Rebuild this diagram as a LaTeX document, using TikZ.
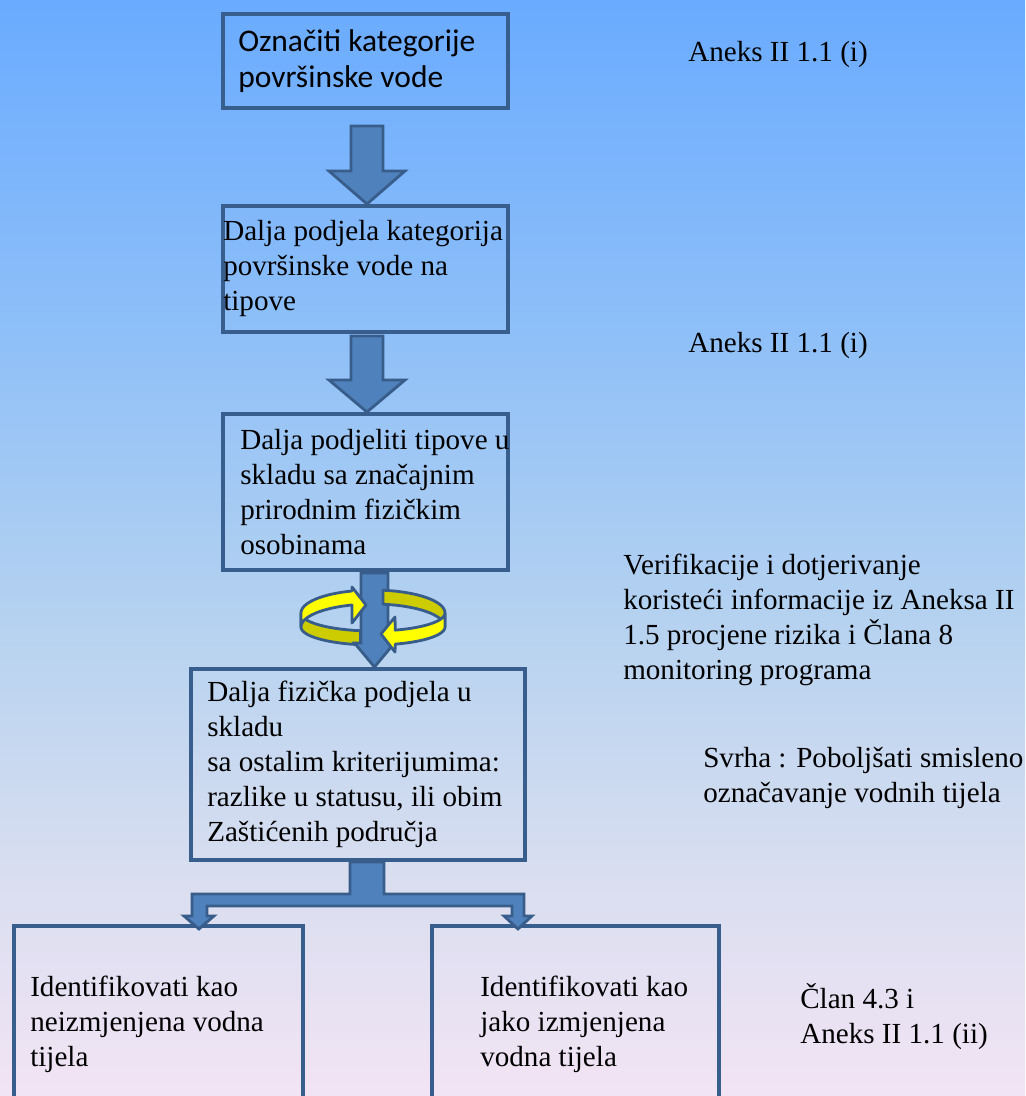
\documentclass[tikz,border=0pt]{standalone}
\usepackage{fontspec}
\setmainfont{Liberation Serif}
\newfontfamily\calibri{Carlito}
\usetikzlibrary{positioning,calc}

\definecolor{bgtop}{HTML}{6AABFF}
\definecolor{bgup}{HTML}{8EBFF8}
\definecolor{bgmid}{HTML}{B5D2F0}
\definecolor{bglow}{HTML}{D8DEF0}
\definecolor{bgbot}{HTML}{F2E4F4}
\definecolor{boxline}{HTML}{385E8E}
\definecolor{arrowfill}{HTML}{4F81BD}
\definecolor{arrowline}{HTML}{385D8A}
\definecolor{ribbonlight}{HTML}{FFFF00}
\definecolor{ribbondark}{HTML}{CCCC00}

\pgfdeclareverticalshading{sky}{100bp}{color(0bp)=(bgbot); color(25bp)=(bgbot);
  color(35.3bp)=(bglow); color(46.7bp)=(bgmid); color(60bp)=(bgup);
  color(75bp)=(bgtop); color(100bp)=(bgtop)}

\newcommand{\pxu}{0.025cm}
% #1 start, #2 target anchor, #3 shaft half width, #4 head half width, #5 head length
\newcommand{\blockarrow}[5]{%
  \draw[barrow] (#1) ++(-#3,0) -- ++(2*#3,0) -- ($(#1 |- #2)+(#3,-#5)$)
    -- ++(#4-#3,0) -- (#1 |- #2) -- ++(-#4,-#5) -- ++(#4-#3,0) -- cycle;}

\begin{document}
\begin{tikzpicture}[x=\pxu,y=-\pxu]
  \tikzstyle{box}=[draw=boxline,line width=2.8pt,anchor=north west,inner sep=0pt]
  \tikzstyle{txt}=[inner sep=0pt,align=left,font=\fontsize{20.7}{24.9}\selectfont]
  \tikzstyle{barrow}=[fill=arrowfill,draw=arrowline,line width=2pt]
  \tikzstyle{ribbon}=[draw=arrowline,line width=2pt,line join=round]

  \useasboundingbox (0,0) rectangle (1025,1096);
  \clip (0,0) rectangle (1025,1096);
  \shade[shading=sky] (0,0) rectangle (1025,1096);

  \node[box,minimum width=285*\pxu,minimum height=94*\pxu]  (k_1) at (221,12)  {};
  \node[box,minimum width=285*\pxu,minimum height=126*\pxu] (k_2) at (221,204) {};
  \node[box,minimum width=285*\pxu,minimum height=156*\pxu] (k_3) at (221,412) {};
  \node[box,minimum width=334*\pxu,minimum height=191*\pxu] (k_4) at (189,667) {};
  \node[box,minimum width=289*\pxu,minimum height=196*\pxu] (i_1) at (12,924)  {};
  \node[box,minimum width=287*\pxu,minimum height=196*\pxu] (i_2) at (430,924) {};

  \node[txt,font=\calibri\fontsize{22.4}{25.6}\selectfont,right=0.425cm of k_1.west] (t_1)
    {Označiti kategorije\\površinske vode};
  \node[txt,right=0.05cm of k_2.west]  (t_2) {Dalja podjela kategorija\\površinske vode na\\tipove};
  \node[txt,right=0.475cm of k_3.west] (t_3) {Dalja podjeliti tipove u\\skladu sa značajnim\\prirodnim fizičkim\\osobinama};
  \node[txt,right=0.45cm of k_4.west]  (t_4) {Dalja fizička podjela u\\skladu\\sa ostalim kriterijumima:\\razlike u statusu, ili obim\\Zaštićenih područja};
  \node[txt,right=0.45cm of i_1.west]  (t_5) {Identifikovati kao\\neizmjenjena vodna\\tijela};
  \node[txt,right=1.25cm of i_2.west]  (t_6) {Identifikovati kao\\jako izmjenjena\\vodna tijela};

  \node[txt,anchor=west] (a_1) at (688,55)   {Aneks II 1.1 (i)};
  \node[txt,anchor=west] (a_2) at (688,345)  {Aneks II 1.1 (i)};
  \node[txt,anchor=west] (ver) at (623,620)  {Verifikacije i dotjerivanje\\koristeći informacije iz Aneksa II\\1.5 procjene rizika i Člana 8\\monitoring programa};
  \node[txt,anchor=west] (svrha) at (703,778) {Svrha : Poboljšati smisleno\\označavanje vodnih tijela};
  \node[txt,anchor=west] (clan) at (800,1017) {Član 4.3 i\\Aneks II 1.1 (ii)};

  \coordinate (s_1) at ($(k_1.south)+(1.5,16)$);
  \coordinate (s_2) at ($(k_2.south)+(1.5,2)$);
  \coordinate (s_3) at ($(k_3.south)+(9,1)$);
  \blockarrow{s_1}{k_2.north}{16}{38}{33}
  \blockarrow{s_2}{k_3.north}{16}{38}{32}

  \fill[ribbondark,ribbon] plot[domain=180:260] ({373+72*cos(\x)},{613-18*sin(\x)})
    -- plot[domain=260:180] ({373+72*cos(\x)},{627-18*sin(\x)}) -- cycle;
  \blockarrow{s_3}{k_4.north}{13.5}{20}{24}
  \fill[ribbondark,ribbon] plot[domain=82:0] ({373+72*cos(\x)},{613-23*sin(\x)})
    -- plot[domain=0:82] ({373+72*cos(\x)},{627-23*sin(\x)}) -- cycle;
  \fill[ribbonlight,ribbon] plot[domain=180:107] ({373+72*cos(\x)},{613-23*sin(\x)})
    -- (352,587) -- (366,605) -- (352,623)
    -- plot[domain=107:180] ({373+72*cos(\x)},{627-23*sin(\x)}) -- cycle;
  \fill[ribbonlight,ribbon] plot[domain=360:288] ({373+72*cos(\x)},{613-18*sin(\x)})
    -- (395,617) -- (381,634) -- (395,652)
    -- plot[domain=288:360] ({373+72*cos(\x)},{627-18*sin(\x)}) -- cycle;

  \coordinate (st) at ($(k_4.south)+(9,0)$);
  \draw[barrow] (st) ++(-17,0) -- ++(34,0) -- ++(0,32) -- ++(140,0) -- ++(0,22)
    -- ++(8,0) -- ++(-14,13) -- ++(-14,-13) -- ++(8,0) -- ++(0,-10) -- ++(-305,0)
    -- ++(0,10) -- ++(7,0) -- ++(-15,13) -- ++(-15,-13) -- ++(8,0) -- ++(0,-22)
    -- ++(158,0) -- cycle;
\end{tikzpicture}
\end{document}
